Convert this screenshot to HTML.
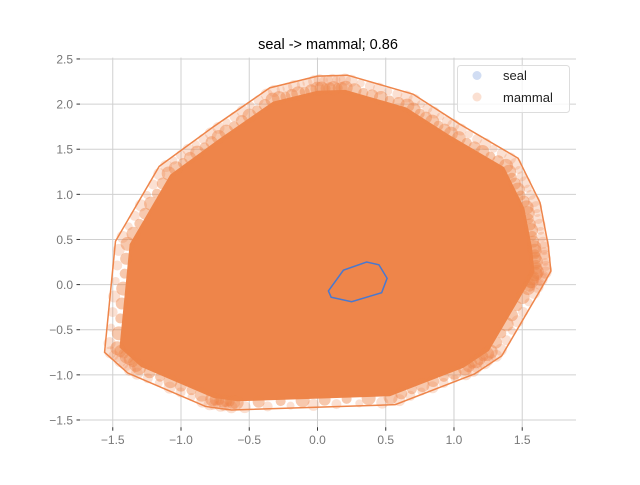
<!DOCTYPE html>
<html><head><meta charset="utf-8"><style>
body{margin:0;background:#fff}
svg{font-family:"Liberation Sans","DejaVu Sans",sans-serif}
</style></head><body>
<svg id="chart" width="640" height="480" viewBox="0 0 640 480">
<g id="grid"></g>
<g id="marks"></g>
<g id="axes"></g>
<text x="328" y="49" text-anchor="middle" font-size="14.5" fill="#000">seal -&gt; mammal; 0.86</text>
<g>
<rect x="457.5" y="65.5" width="112" height="47" rx="3" fill="#fff" fill-opacity="0.8" stroke="#ddd"/>
<circle cx="477" cy="75.5" r="4.5" fill="#4878d0" fill-opacity="0.25"/>
<text x="503" y="80" font-size="13" fill="#222">seal</text>
<circle cx="477" cy="97" r="4.5" fill="#ee854a" fill-opacity="0.25"/>
<text x="503" y="102" font-size="13" fill="#222">mammal</text>
</g>
</svg>
<script>
const xTicks=[-1.5,-1.0,-0.5,0.0,0.5,1.0,1.5];
const yTicks=[2.5,2.0,1.5,1.0,0.5,0.0,-0.5,-1.0,-1.5];
const mammalHullX=[-1.48,-1.56,-1.39,-0.82,-0.63,0.57,1.15,1.35,1.64,1.71,1.69,1.63,1.47,1.04,0.70,0.22,0.0,-0.35,-0.77,-1.16];
const mammalHullY=[0.48,-0.75,-0.98,-1.35,-1.39,-1.33,-0.99,-0.79,-0.04,0.15,0.44,0.91,1.40,1.78,2.11,2.32,2.31,2.18,1.74,1.31];
const sealHullX=[0.08,0.19,0.36,0.45,0.51,0.47,0.25,0.10];
const sealHullY=[-0.07,0.16,0.25,0.22,0.07,-0.09,-0.19,-0.14];
const L=80,R=576,T=57.6,B=427.2,xmin=-1.74,xmax=1.894,ymin=-1.58,ymax=2.515;
const sx=v=>L+(v-xmin)/(xmax-xmin)*(R-L);
const sy=v=>B-(v-ymin)/(ymax-ymin)*(B-T);
const NS='http://www.w3.org/2000/svg';
function mk(t,a,p){const e=document.createElementNS(NS,t);for(const k in a)e.setAttribute(k,a[k]);p.appendChild(e);return e;}
const grid=document.getElementById('grid'),axes=document.getElementById('axes'),marks=document.getElementById('marks');
xTicks.forEach(v=>{
 const g=mk('line',{x1:sx(v),x2:sx(v),y1:T,y2:B,stroke:'#d0d0d0','stroke-width':1},grid);
 
 
 const t=mk('line',{x1:sx(v),x2:sx(v),y1:B,y2:B+3.5,stroke:'#333','stroke-width':1},axes);
 
 
 const l=mk('text',{x:sx(v),y:B+17,'text-anchor':'middle','font-size':12,fill:'#777'},axes);
 l.textContent=(v<0?'\u2212':'')+Math.abs(v).toFixed(1);
 
 
});
yTicks.forEach(v=>{
 const g=mk('line',{x1:L,x2:R,y1:sy(v),y2:sy(v),stroke:'#d0d0d0','stroke-width':1},grid);
 
 
 const t=mk('line',{x1:L-3.5,x2:L,y1:sy(v),y2:sy(v),stroke:'#333','stroke-width':1},axes);
 
 
 const l=mk('text',{x:L-7,y:sy(v)+4.5,'text-anchor':'end','font-size':12,fill:'#777'},axes);
 l.textContent=(v<0?'\u2212':'')+Math.abs(v).toFixed(1);
 
 
});
function pts(xs,ys,s){return xs.map((x,i)=>sx(x*s)+','+sy(ys[i]*s)).join(' ');}
const core=mk('polygon',{points:pts(mammalHullX,mammalHullY,0.93),fill:'#ee854a'},marks);


[[0.94,7,0.45],[0.98,6,0.25]].forEach(([s,r,op],ri)=>{
 for(let i=0;i<mammalHullX.length;i++){
  const j=(i+1)%mammalHullX.length;
  for(let k=0;k<7;k++){
   const f=(k+ri*0.5)/7;
   const x=(mammalHullX[i]*(1-f)+mammalHullX[j]*f)*s, y=(mammalHullY[i]*(1-f)+mammalHullY[j]*f)*s;
   const c=mk('circle',{cx:sx(x),cy:sy(y),r:r-(k%3),fill:'#ee854a','fill-opacity':op},marks);
   
   
  }
 }
});
const mh=mk('polygon',{points:pts(mammalHullX,mammalHullY,1),fill:'none',stroke:'#ee854a','stroke-width':1.5},marks);


const shh=mk('polygon',{points:pts(sealHullX,sealHullY,1),fill:'none',stroke:'#4878d0','stroke-width':1.5},marks);


</script>
</body></html>
